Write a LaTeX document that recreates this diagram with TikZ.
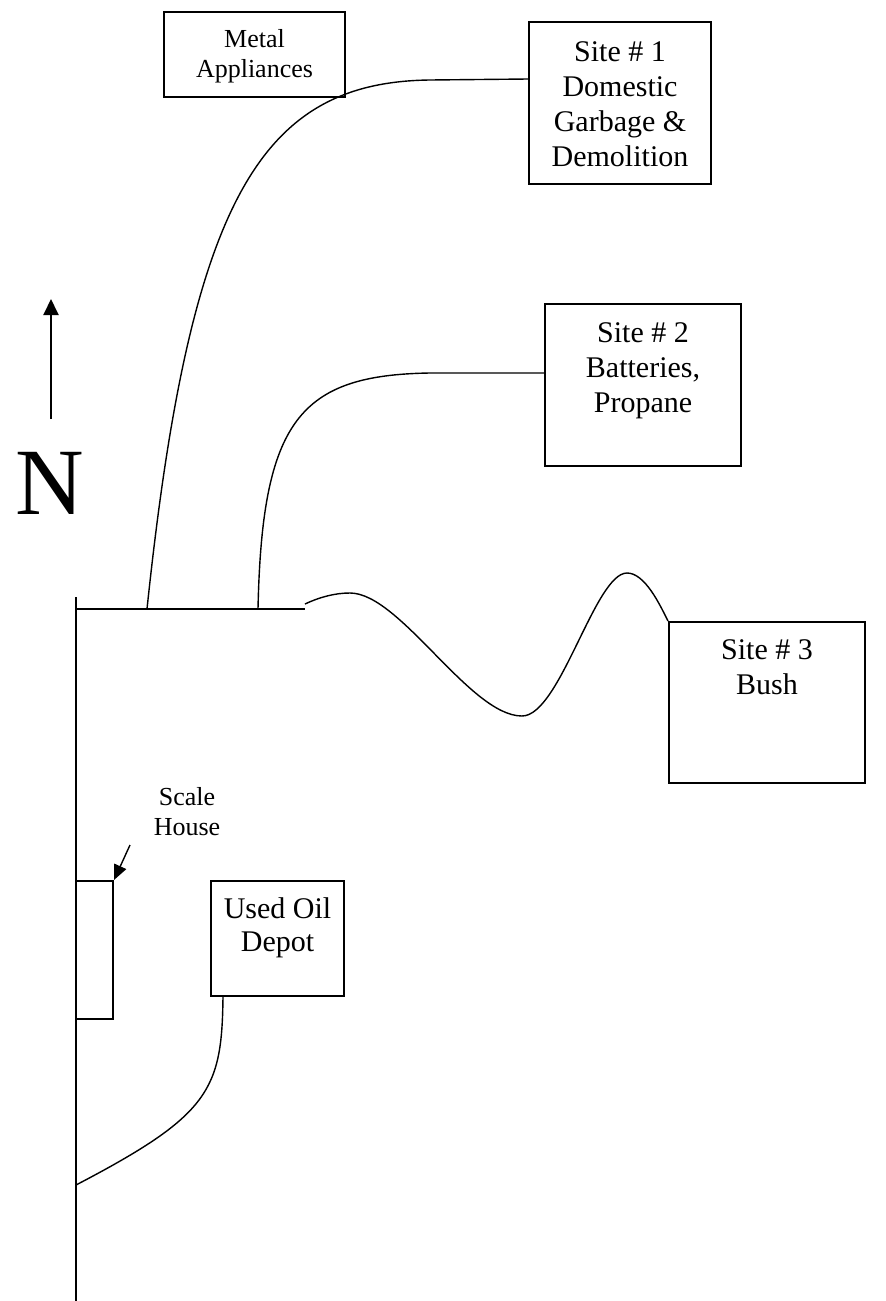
\documentclass[tikz,border=0pt]{standalone}
\usepackage{fontspec}
\setmainfont{Liberation Serif}
\usetikzlibrary{arrows.meta}
\tikzset{
  boxthick/.style={draw, line width=2.1pt, inner sep=0pt},
  boxthin/.style={draw, line width=1.5pt, inner sep=0pt},
  road/.style={line width=1.9pt},
  track/.style={line width=1.4pt},
  bigtext/.style={align=center, inner sep=0pt, anchor=north, font=\fontsize{30}{35}\selectfont},
  smalltext/.style={align=center, inner sep=0pt, anchor=north, font=\fontsize{26}{30.5}\selectfont},
}
\begin{document}
\begin{tikzpicture}[x=1pt, y=-1pt]
\useasboundingbox (0,0) rectangle (886,1301);
% boxes
\node[boxthin, minimum width=181pt, minimum height=85pt] (metal) at (254.5,54.5) {};
\node[boxthick, minimum width=182pt, minimum height=162pt] (s1) at (620,103) {};
\node[boxthick, minimum width=196pt, minimum height=162pt] (s2) at (643,385) {};
\node[boxthick, minimum width=196pt, minimum height=161pt] (s3) at (767,702.5) {};
\node[boxthick, minimum width=37pt, minimum height=138pt] (scale) at (94.5,950) {};
\node[boxthick, minimum width=133pt, minimum height=115pt] (oil) at (277.5,938.5) {};
% texts
\node[smalltext] (metaltxt) at (254.5,29) {Metal\\Appliances};
\node[bigtext] (s1txt) at (620,41) {Site \# 1\\Domestic\\Garbage \&\\Demolition};
\node[bigtext] (s2txt) at (643,322) {Site \# 2\\Batteries,\\Propane};
\node[bigtext] (s3txt) at (767,639) {Site \# 3\\Bush};
\node[bigtext, font=\fontsize{30}{33.5}\selectfont] (oiltxt) at (277.5,897) {Used Oil\\Depot};
\node[smalltext] (scaletxt) at (187,787) {Scale\\House};
\node[inner sep=0pt, font=\fontsize{95}{100}\selectfont] (ntxt) at (50,483) {N};
% north arrow
\coordinate (na) at (51,419);
\coordinate (nb) at (51,299);
\draw[road, -{Triangle[length=16pt,width=15pt]}] (na) -- (nb);
% road
\coordinate (roadtop) at (76,597);
\coordinate (roadbot) at (76,1301);
\coordinate (j0) at (76,609);
\coordinate (hend) at (305,609);
\coordinate (b1) at (147,609);
\coordinate (b2) at (258,609);
\coordinate (oilj) at (76,1185);
\draw[road] (roadtop) -- (roadbot);
\draw[road] (j0) -- (hend);
% branches
\coordinate (s1in) at (s1.west |- 0,79);
\coordinate (s2in) at (s2.west |- 0,373);
\draw[track] (b1) .. controls (190,200) and (260,82) .. (430,80) -- (s1in);
\draw[track] (b2) .. controls (262,420) and (300,375) .. (430,373) -- (s2in);
% wavy track to site 3
\coordinate (w0) at (305,604);
\draw[track] (w0) .. controls (320,597) and (335,593) .. (350,593)
  .. controls (400,593) and (470,716) .. (522,716)
  .. controls (560,716) and (595,573) .. (627,573)
  .. controls (645,573) and (660,605) .. (s3.north west);
% used oil track
\coordinate (oilout) at (223,996);
\draw[track] (oilout) .. controls (222,1090) and (210,1115) .. (oilj);
% scale house arrow
\coordinate (sa) at (130,845);
\draw[track, -{Triangle[length=15pt,width=13pt]}] (sa) -- (scale.north east);
\end{tikzpicture}
\end{document}
